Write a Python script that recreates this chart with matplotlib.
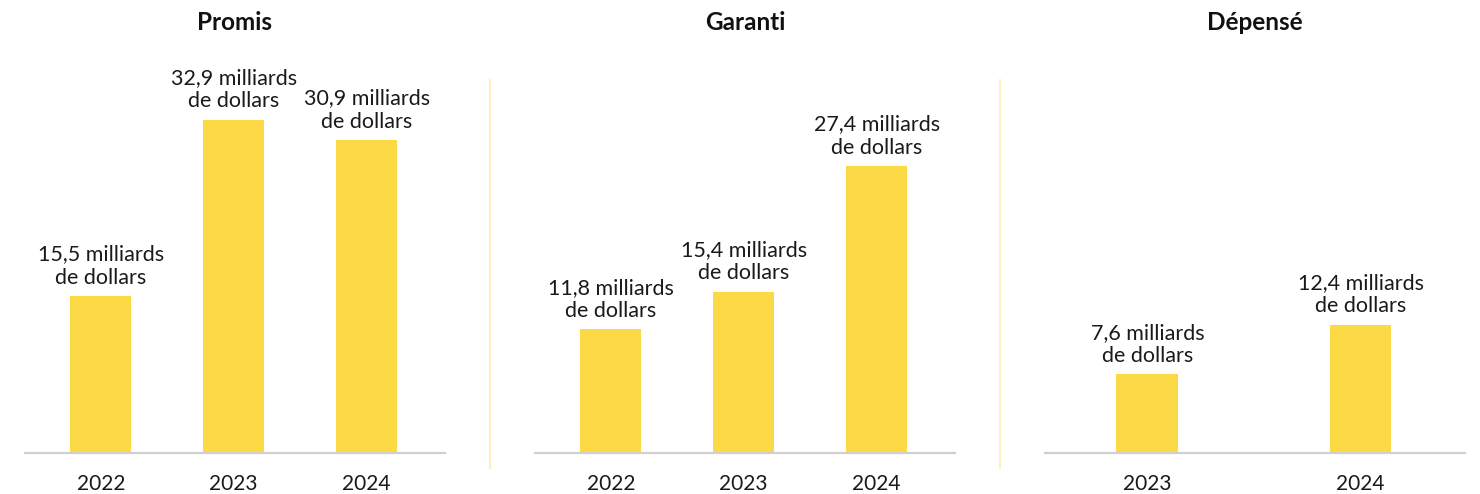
import matplotlib.pyplot as plt
from matplotlib.lines import Line2D

# données (milliards de dollars)
panels = ["Promis", "Garanti", "Dépensé"]
years = [["2022", "2023", "2024"], ["2022", "2023", "2024"], ["2023", "2024"]]
values = [[15.5, 32.9, 30.9], [11.8, 15.4, 27.4], [7.6, 12.4]]
labels = [
    ["15,5 milliards\nde dollars", "32,9 milliards\nde dollars", "30,9 milliards\nde dollars"],
    ["11,8 milliards\nde dollars", "15,4 milliards\nde dollars", "27,4 milliards\nde dollars"],
    ["7,6 milliards\nde dollars", "12,4 milliards\nde dollars"],
]
ymax = [38.8, 37.5, 38.0]

plt.rcParams["font.family"] = ["Lato", "DejaVu Sans"]
bar_color = "#FDDA45"

fig = plt.figure(figsize=(14.8, 4.94), dpi=100)
lefts = [25, 535, 1045]
for i, name in enumerate(panels):
    ax = fig.add_axes([lefts[i] / 1480, 41 / 494, 420 / 1480, 393 / 494])
    n = len(values[i])
    x = list(range(n))
    if n == 3:
        width = 0.46
        ax.set_xlim(-0.57, 2.59)
    else:
        width = 0.29
        ax.set_xlim(-0.48, 1.49)
    bars = ax.bar(x, values[i], width=width, color=bar_color)
    for b, lab in zip(bars, labels[i]):
        ax.annotate(lab, (b.get_x() + b.get_width() / 2, b.get_height()),
                    xytext=(0, 6), textcoords="offset points",
                    ha="center", va="bottom", fontsize=15.5, color="#1a1a1a",
                    linespacing=1.2)
    ax.set_ylim(0, ymax[i])
    ax.set_xticks(x)
    ax.set_xticklabels(years[i], fontsize=15, color="#1a1a1a")
    ax.tick_params(axis="x", length=0, pad=15)
    ax.set_yticks([])
    for s in ["top", "right", "left"]:
        ax.spines[s].set_visible(False)
    ax.spines["bottom"].set_color("#d0d0d0")
    ax.spines["bottom"].set_linewidth(1.6)
    fig.text((lefts[i] + 210) / 1480, 1 - 22 / 494, name, ha="center", va="center",
             fontsize=17.5, fontweight="bold", color="#111111")

for xs in [490, 1000]:
    fig.add_artist(Line2D([xs / 1480, xs / 1480], [26 / 494, 414 / 494],
                          transform=fig.transFigure, color="#FFF0C0", linewidth=1.5))

fig.savefig("out.png", dpi=100)
